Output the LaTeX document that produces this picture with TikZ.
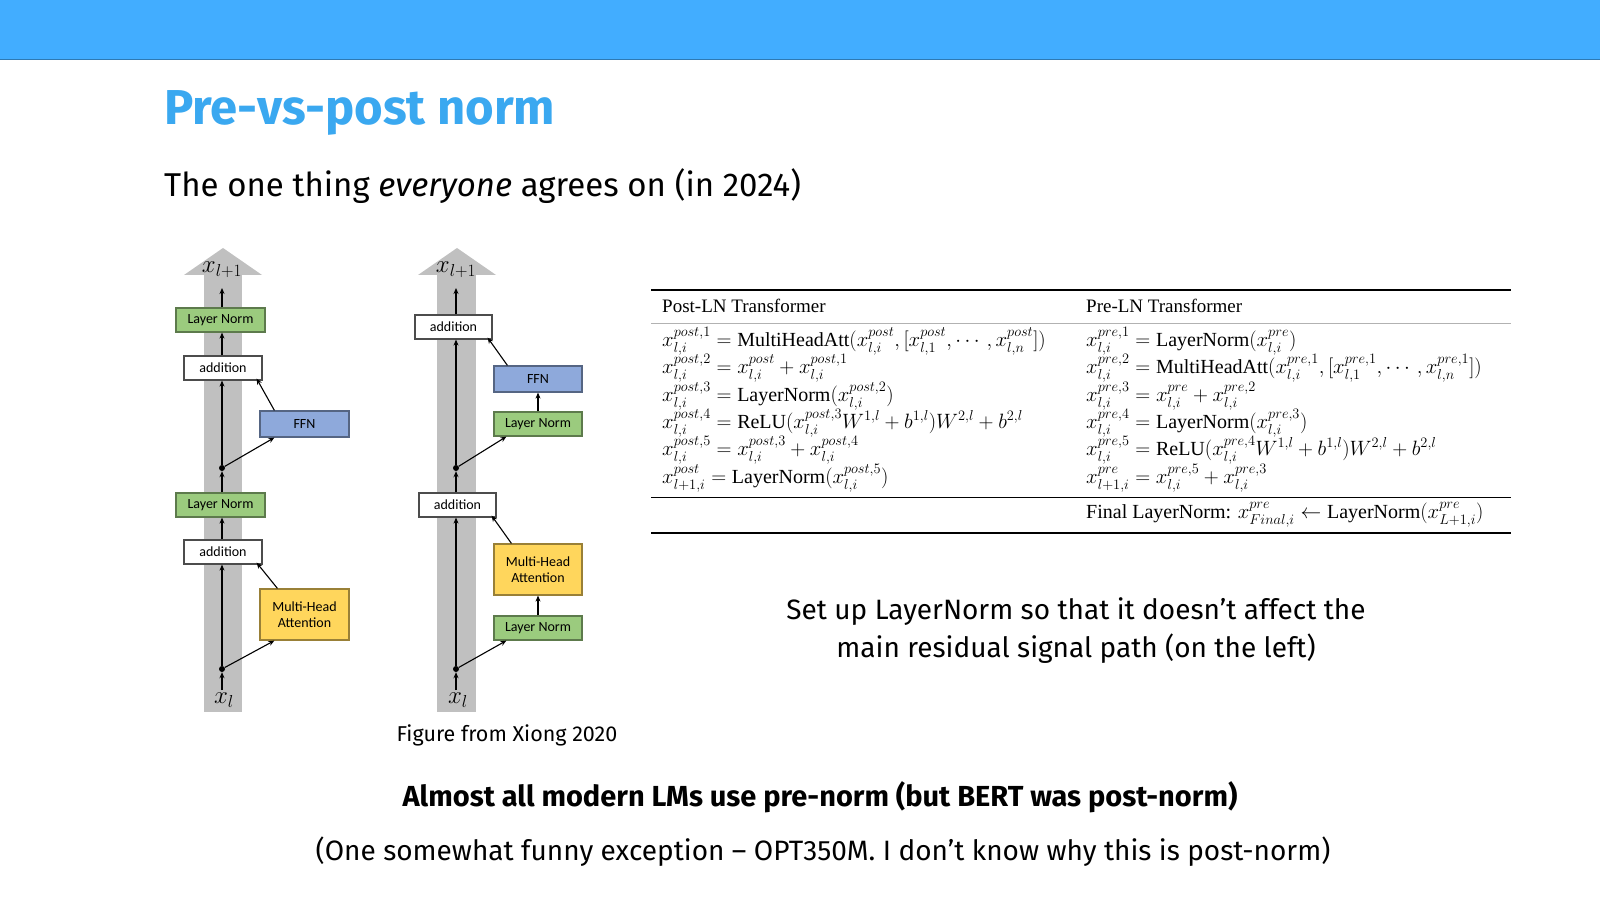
\documentclass[tikz,border=0pt]{standalone}
\usepackage{fontspec}
\usepackage{amsmath}
\setmainfont{Fira Sans}
\newfontfamily\diag{Carlito}
\newfontfamily\tserif{Liberation Serif}
\newcommand{\opn}[1]{\text{\tserif #1}}
\usetikzlibrary{arrows.meta}
\definecolor{barblue}{HTML}{42ADFF}
\definecolor{titleblue}{HTML}{3AA8F0}
\definecolor{lngreen}{HTML}{9BCB7E}
\definecolor{ffnblue}{HTML}{8EA9DB}
\definecolor{mhayel}{HTML}{FFD65C}
\definecolor{colgray}{HTML}{C0C0C0}
\begin{document}
\begin{tikzpicture}[x=1pt,y=-1pt,
  box/.style={draw=#1!60!black,line width=1.2pt,font=\diag\fontsize{14}{16}\selectfont,inner sep=0pt,align=center},
  arr/.style={-{Stealth[length=6pt,width=5pt]},line width=1.1pt},
  dot/.style={circle,fill=black,inner sep=0pt,minimum size=6pt},
  row/.style={anchor=west,inner sep=0pt,font=\fontsize{20}{22}\selectfont},
  hdr/.style={anchor=west,inner sep=0pt,font=\tserif\fontsize{19}{21}\selectfont}]
\useasboundingbox (0,0) rectangle (1600,901);
\fill[white] (0,0) rectangle (1600,901);
\fill[barblue] (0,0) rectangle (1600,60);
\draw[barblue!70!black,line width=1pt] (0,60) -- (1600,60);
\node[anchor=base west,inner sep=0pt,text=titleblue,font=\fontsize{49}{56}\selectfont\bfseries] (title) at (164,125) {Pre-vs-post norm};
\node[anchor=base west,inner sep=0pt,font=\fontsize{33}{38}\selectfont] (sub) at (164,197) {The one thing \textit{everyone} agrees on (in 2024)};

% ---- diagram 1 (post-LN)
\fill[colgray] (204,275) rectangle (242,712);
\fill[colgray] (184,275) -- (223,248) -- (262,275) -- cycle;
\node[font=\fontsize{25}{27}\selectfont] (a1) at (222,270) {$x_{l+1}$};
\node[font=\fontsize{25}{27}\selectfont] (a0) at (224,700) {$x_l$};
\node[box=lngreen,fill=lngreen,minimum width=89pt,minimum height=24pt] (aln2) at (220.5,320) {Layer Norm};
\node[box=gray,fill=white,minimum width=78pt,minimum height=24pt] (aad2) at (223,368) {addition};
\node[box=ffnblue,fill=ffnblue,minimum width=89pt,minimum height=26pt] (affn) at (304.5,424) {FFN};
\node[box=lngreen,fill=lngreen,minimum width=89pt,minimum height=24pt] (aln1) at (220.5,505) {Layer Norm};
\node[box=gray,fill=white,minimum width=78pt,minimum height=24pt] (aad1) at (223,552) {addition};
\node[box=mhayel,fill=mhayel,minimum width=89pt,minimum height=51pt] (amha) at (304.5,614.5) {Multi-Head\\Attention};
\node[dot] (ad1) at (222,669) {};
\node[dot] (ad2) at (222,468) {};
\coordinate (ab) at (222,690);
\coordinate (at) at (222,288);
\draw[arr] (ab) -- (ad1);
\draw[arr] (ad1) -- (aad1.south -| ad1);
\draw[arr] (aad1.north -| ad1) -- (aln1.south -| ad1);
\draw[arr] (aln1.north -| ad1) -- (ad2);
\draw[arr] (ad2) -- (aad2.south -| ad2);
\draw[arr] (aad2.north -| ad2) -- (aln2.south -| ad2);
\draw[arr] (aln2.north -| ad2) -- (at);
\draw[arr] (ad1) -- ([xshift=15pt]amha.south west);
\draw[arr] ([xshift=18pt]amha.north west) -- ([xshift=-6pt,yshift=2pt]aad1.south east);
\draw[arr] (ad2) -- ([xshift=15pt]affn.south west);
\draw[arr] ([xshift=15pt]affn.north west) -- ([xshift=-6pt,yshift=2pt]aad2.south east);

% ---- diagram 2 (pre-LN)
\fill[colgray] (437,275) rectangle (476,712);
\fill[colgray] (418,275) -- (457,248) -- (496,275) -- cycle;
\node[font=\fontsize{25}{27}\selectfont] (b1) at (456,270) {$x_{l+1}$};
\node[font=\fontsize{25}{27}\selectfont] (b0) at (458,700) {$x_l$};
\node[box=gray,fill=white,minimum width=77pt,minimum height=24pt] (bad2) at (453.5,327) {addition};
\node[box=ffnblue,fill=ffnblue,minimum width=88pt,minimum height=26pt] (bffn) at (538,379) {FFN};
\node[box=lngreen,fill=lngreen,minimum width=88pt,minimum height=24pt] (bln2) at (538,424) {Layer Norm};
\node[box=gray,fill=white,minimum width=77pt,minimum height=24pt] (bad1) at (457.5,505) {addition};
\node[box=mhayel,fill=mhayel,minimum width=88pt,minimum height=51pt] (bmha) at (538,569.5) {Multi-Head\\Attention};
\node[box=lngreen,fill=lngreen,minimum width=88pt,minimum height=24pt] (bln1) at (538,628) {Layer Norm};
\node[dot] (bd1) at (456,669) {};
\node[dot] (bd2) at (456,468) {};
\coordinate (bb) at (456,690);
\coordinate (bt) at (456,288);
\draw[arr] (bb) -- (bd1);
\draw[arr] (bd1) -- (bad1.south -| bd1);
\draw[arr] (bad1.north -| bd1) -- (bd2);
\draw[arr] (bd2) -- (bad2.south -| bd2);
\draw[arr] (bad2.north -| bd2) -- (bt);
\draw[arr] (bd1) -- ([xshift=13pt]bln1.south west);
\draw[arr] (bln1.north) -- (bmha.south);
\draw[arr] ([xshift=18pt]bmha.north west) -- ([xshift=-5pt,yshift=2pt]bad1.south east);
\draw[arr] (bd2) -- ([xshift=13pt]bln2.south west);
\draw[arr] (bln2.north) -- (bffn.south);
\draw[arr] ([xshift=14pt]bffn.north west) -- ([xshift=-5pt,yshift=2pt]bad2.south east);
\node[font=\fontsize{21.5}{24}\selectfont] (cap) at (507,735) {Figure from Xiong 2020};

% ---- table
\draw[line width=1.5pt] (651,290) -- (1511,290);
\draw[gray!60,line width=0.8pt] (651,323) -- (1511,323);
\draw[line width=1pt] (651,497) -- (1511,497);
\draw[line width=1.5pt] (651,533) -- (1511,533);
\node[hdr] (h1) at (662,306) {Post-LN Transformer};
\node[hdr] (h2) at (1086,306) {Pre-LN Transformer};
\node[row] (p1) at (662,341) {$x^{post,1}_{l,i}=\opn{MultiHeadAtt}(x^{post}_{l,i},[x^{post}_{l,1},\cdots,x^{post}_{l,n}])$};
\node[row] (p2) at (662,368) {$x^{post,2}_{l,i}=x^{post}_{l,i}+x^{post,1}_{l,i}$};
\node[row] (p3) at (662,396) {$x^{post,3}_{l,i}=\opn{LayerNorm}(x^{post,2}_{l,i})$};
\node[row] (p4) at (662,423) {$x^{post,4}_{l,i}=\opn{ReLU}(x^{post,3}_{l,i}W^{1,l}+b^{1,l})W^{2,l}+b^{2,l}$};
\node[row] (p5) at (662,450) {$x^{post,5}_{l,i}=x^{post,3}_{l,i}+x^{post,4}_{l,i}$};
\node[row] (p6) at (662,478) {$x^{post}_{l+1,i}=\opn{LayerNorm}(x^{post,5}_{l,i})$};
\node[row] (q1) at (1086,341) {$x^{pre,1}_{l,i}=\opn{LayerNorm}(x^{pre}_{l,i})$};
\node[row] (q2) at (1086,368) {$x^{pre,2}_{l,i}=\opn{MultiHeadAtt}(x^{pre,1}_{l,i},[x^{pre,1}_{l,1},\cdots,x^{pre,1}_{l,n}])$};
\node[row] (q3) at (1086,396) {$x^{pre,3}_{l,i}=x^{pre}_{l,i}+x^{pre,2}_{l,i}$};
\node[row] (q4) at (1086,423) {$x^{pre,4}_{l,i}=\opn{LayerNorm}(x^{pre,3}_{l,i})$};
\node[row] (q5) at (1086,450) {$x^{pre,5}_{l,i}=\opn{ReLU}(x^{pre,4}_{l,i}W^{1,l}+b^{1,l})W^{2,l}+b^{2,l}$};
\node[row] (q6) at (1086,478) {$x^{pre}_{l+1,i}=x^{pre,5}_{l,i}+x^{pre,3}_{l,i}$};
\node[row] (q7) at (1086,515) {\tserif Final LayerNorm: $x^{pre}_{Final,i}\leftarrow\opn{LayerNorm}(x^{pre}_{L+1,i})$};

% ---- texts
\node[align=center,font=\fontsize{28}{38}\selectfont] (note) at (1076,631) {Set up LayerNorm so that it doesn’t affect the\\main residual signal path (on the left)};
\node[font=\fontsize{29}{32}\selectfont\bfseries] (bold) at (820,797) {Almost all modern LMs use pre-norm (but BERT was post-norm)};
\node[font=\fontsize{28}{32}\selectfont] (last) at (823,852) {(One somewhat funny exception – OPT350M. I don’t know why this is post-norm)};
\end{tikzpicture}
\end{document}
